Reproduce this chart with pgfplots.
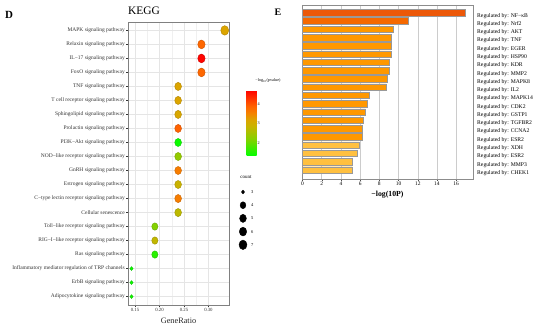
\documentclass[border=0pt]{standalone}
\usepackage{pgfplots}
\pgfplotsset{compat=1.18}
\usepackage{pgfplotstable}
\usepackage{fontspec}
\setmainfont{Liberation Serif}

\pgfplotsset{colormap={kegg}{rgb255(0cm)=(0,255,0) rgb255(25cm)=(130,210,0) rgb255(45cm)=(200,180,0) rgb255(55cm)=(220,165,0) rgb255(65cm)=(245,130,0) rgb255(75cm)=(255,100,0) rgb255(100cm)=(255,0,0)}}

\pgfdeclareplotmark{ell}{%
  \pgfpathellipse{\pgfpointorigin}{\pgfqpoint{\pgfplotmarksize}{0pt}}{\pgfqpoint{0pt}{1.2\pgfplotmarksize}}%
  \pgfusepathqfillstroke}

\definecolor{barA}{RGB}{236,88,8}
\definecolor{barB}{RGB}{245,105,0}
\definecolor{barC}{RGB}{255,152,0}
\definecolor{barD}{RGB}{255,192,64}

\pgfplotstableread{
y x meta r
0 0.3333 3.2 4.0
1 0.2857 3.85 3.7
2 0.2857 4.7 3.7
3 0.2857 3.85 3.7
4 0.2381 3.2 3.4
5 0.2381 3.2 3.4
6 0.2381 3.15 3.4
7 0.2381 3.9 3.4
8 0.2381 1.4 3.4
9 0.2381 2.35 3.4
10 0.2381 3.6 3.4
11 0.2381 2.9 3.4
12 0.2381 3.6 3.4
13 0.2381 2.75 3.4
14 0.1905 2.2 3.1
15 0.1905 2.8 3.1
16 0.1905 1.6 3.1
17 0.1429 1.4 1.6
18 0.1429 1.4 1.6
19 0.1429 1.45 1.6
}\keggdata

\pgfplotstableread{
x y r
0 3 1.6
0 4 2.9
0 5 3.4
0 6 3.7
0 7 4.0
}\countdata

\begin{document}
\begin{tikzpicture}
\path[use as bounding box] (0,0) rectangle (550bp,329bp);

% ---------- Panel D ----------
\begin{axis}[
  at={(128bp,24bp)}, anchor=south west, scale only axis,
  width=101bp, height=283bp,
  xmin=0.1357, xmax=0.342, ymin=-0.6, ymax=19.6, y dir=reverse,
  xtick={0.15,0.2,0.25,0.3}, xticklabels={0.15,0.20,0.25,0.30},
  minor x tick num=1, minor tick length=0pt,
  ytick={0,...,19},
  yticklabels={MAPK signaling pathway, Relaxin signaling pathway, IL−17 signaling pathway, FoxO signaling pathway, TNF signaling pathway, T cell receptor signaling pathway, Sphingolipid signaling pathway, Prolactin signaling pathway, PI3K−Akt signaling pathway, NOD−like receptor signaling pathway, GnRH signaling pathway, Estrogen signaling pathway, C−type lectin receptor signaling pathway, Cellular senescence, Toll−like receptor signaling pathway, RIG−I−like receptor signaling pathway, Ras signaling pathway, Inflammatory mediator regulation of TRP channels, ErbB signaling pathway, Adipocytokine signaling pathway},
  grid=both, major grid style={black!10, line width=0.5pt}, minor grid style={black!6, line width=0.4pt},
  axis line style={black!50, line width=0.8pt},
  tick align=outside, tick pos=left, major tick length=2bp,
  tick style={black!80, line width=0.4pt},
  yticklabel style={font=\fontsize{5.5}{6}\selectfont, text=black!80, inner sep=1pt},
  xticklabel style={font=\fontsize{4.8}{5}\selectfont, text=black!80, inner sep=1pt},
  xlabel={GeneRatio}, xlabel style={font=\fontsize{8.3}{9}\selectfont, text=black!85, yshift=-2bp},
  colormap name=kegg, point meta min=1.33, point meta max=4.73,
  colorbar,
  colorbar style={at={(parent axis.north east)}, anchor=north west, xshift=9bp, yshift=-68bp,
    scale only axis, width=10bp, height=66bp, ytick={2,3,4},
    yticklabel style={font=\fontsize{4.2}{5}\selectfont, /pgf/number format/assume math mode=true, inner sep=1pt},
    major tick length=0pt, axis line style={draw=none}},
]
\addplot[scatter, only marks, mark=ell, point meta=explicit,
  visualization depends on={\thisrow{r}\as\rad},
  scatter/@pre marker code/.append style={/tikz/mark size=\rad}]
  table[x=x, y=y, meta=meta]{\keggdata};
\end{axis}

\node[font=\fontsize{11.5}{12}\selectfont] at (144bp,318bp) {KEGG};
\node[font=\bfseries\fontsize{11}{12}\selectfont] at (9bp,314bp) {D};
\node[font=\bfseries\fontsize{10}{11}\selectfont] at (278bp,317bp) {E};
\node[font=\fontsize{4.2}{5}\selectfont] at (268bp,248bp) {−log\textsubscript{10}(pvalue)};
\node[font=\fontsize{5}{6}\selectfont] at (246bp,152bp) {count};

% count legend
\begin{axis}[
  at={(238bp,77.6bp)}, anchor=south west, scale only axis,
  width=10bp, height=66bp, xmin=-1, xmax=1, ymin=2.5, ymax=7.5, y dir=reverse,
  axis line style={draw=none}, xtick=\empty, ytick={3,4,5,6,7},
  yticklabel pos=right, major tick length=0pt,
  yticklabel style={font=\fontsize{4.5}{5}\selectfont, /pgf/number format/assume math mode=true, inner sep=0pt, xshift=3bp}]
\addplot[scatter, only marks, mark=ell, point meta=y,
  scatter/use mapped color={draw=black, fill=black},
  visualization depends on={\thisrow{r}\as\rad},
  scatter/@pre marker code/.append style={/tikz/mark size=\rad}]
  table[x=x, y=y]{\countdata};
\end{axis}

% ---------- Panel E ----------
\begin{axis}[
  at={(302bp,150bp)}, anchor=south west, scale only axis,
  width=171bp, height=174bp,
  xbar, bar width=0.78,
  xmin=-0.05, xmax=17.75, ymin=-0.93, ymax=20.09, y dir=reverse,
  xtick={0,2,...,16},
  ytick={0,...,19},
  yticklabels={Regulated by: NF−κB, Regulated by: Nrf2, Regulated by: AKT, Regulated by: TNF, Regulated by: EGER, Regulated by: HSP90, Regulated by: KDR, Regulated by: MMP2, Regulated by: MAPK8, Regulated by: IL2, Regulated by: MAPK14, Regulated by: CDK2, Regulated by: GSTP1, Regulated by: TGFBR2, Regulated by: CCNA2, Regulated by: ESR2, Regulated by: XDH, Regulated by: ESR2, Regulated by: MMP3, Regulated by: CHEK1},
  yticklabel pos=right,
  yticklabel style={anchor=west, font=\fontsize{5.7}{6}\selectfont, inner sep=0pt, xshift=2bp, yshift=-3bp},
  major y tick style={draw=none},
  xtick pos=bottom, tick align=outside, major tick length=2bp,
  xtick style={black!70},
  xmajorgrids, grid style={black!20, line width=0.5pt},
  axis line style={black!45, line width=0.7pt},
  xticklabel style={font=\fontsize{5.5}{6}\selectfont, /pgf/number format/assume math mode=true, inner sep=1pt},
  xlabel={\textbf{−log(10P)}}, xlabel style={font=\fontsize{7.8}{8}\selectfont, yshift=-1bp},
]
\addplot[draw=black!40, line width=0.5pt, fill=barA, bar shift=0pt] coordinates {(16.9,0)};
\addplot[draw=black!40, line width=0.5pt, fill=barB, bar shift=0pt] coordinates {(11.0,1)};
\addplot[draw=black!40, line width=0.5pt, fill=barC, bar shift=0pt] coordinates {
(9.4,2) (9.25,3) (9.25,4) (9.2,5) (9.05,6) (8.98,7) (8.87,8) (8.7,9)
(6.9,10) (6.7,11) (6.55,12) (6.3,13) (6.2,14) (6.2,15)};
\addplot[draw=black!40, line width=0.5pt, fill=barD, bar shift=0pt] coordinates {
(5.9,16) (5.75,17) (5.2,18) (5.2,19)};
\end{axis}
\end{tikzpicture}
\end{document}
